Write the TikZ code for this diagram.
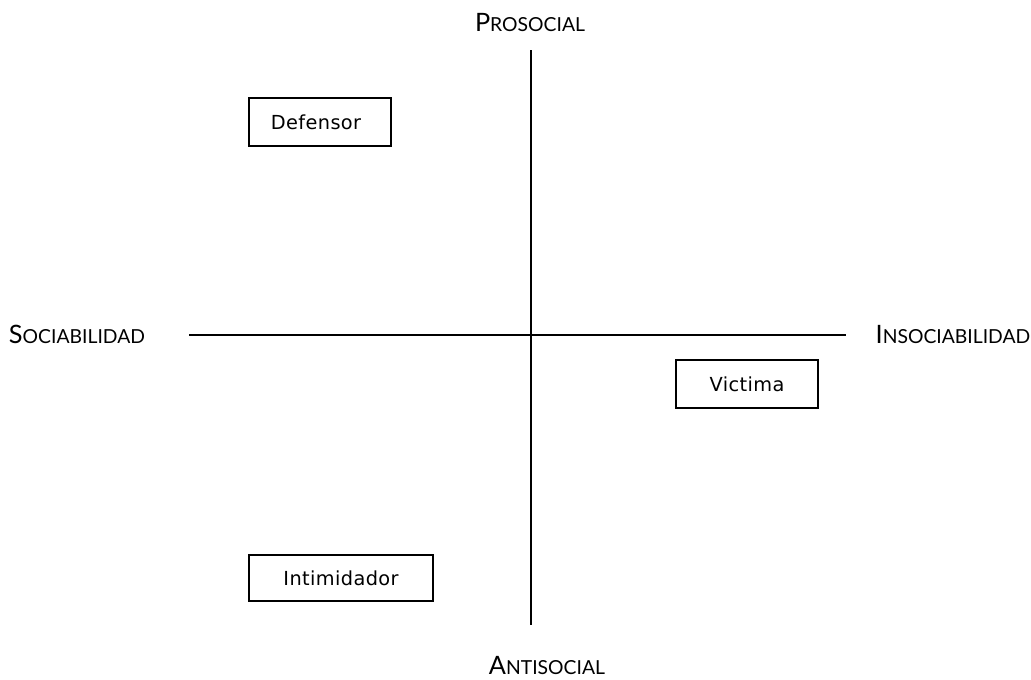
\documentclass[tikz,border=0pt]{standalone}
\usepackage{fontspec}
\setmainfont[LetterSpace=2]{DejaVu Sans}
\newfontfamily\axisfont{Lato}
\usetikzlibrary{positioning}

% fake small caps for the axis names
\newcommand{\axname}[2]{{\axisfont\fontsize{19}{19}\selectfont #1\fontsize{14.5}{14.5}\selectfont #2}}

\tikzset{
  role/.style={draw, line width=1.5pt, inner sep=0pt, font=\fontsize{14.5}{14.5}\selectfont},
  axis/.style={line width=1.5pt},
  pole/.style={inner sep=0pt}
}

\begin{document}
\begin{tikzpicture}[x=0.75pt,y=0.75pt,yscale=-1,xscale=1]
\useasboundingbox (0,0) rectangle (1031,679);

% axes ends
\coordinate (top) at (531,50);
\coordinate (bot) at (531,625);
\coordinate (lft) at (189,335);
\coordinate (rgt) at (846,335);

\draw [axis] (top) -- (bot);
\draw [axis] (lft) -- (rgt);

% poles
\node [pole] (pro) at (530,22) {\axname{P}{ROSOCIAL}};
\node [pole] (anti) at (547,665) {\axname{A}{NTISOCIAL}};
\node [pole] (soc) at (77,334) {\axname{S}{OCIABILIDAD}};
\node [pole] (insoc) at (953,334) {\axname{I}{NSOCIABILIDAD}};

% roles
\node [role, minimum width=106.5pt, minimum height=36pt] (def) at (320,122) {\hspace*{-6pt}Defensor};
\node [role, minimum width=106.5pt, minimum height=36pt] (vic) at (747,384) {Victima};
\node [role, minimum width=138pt, minimum height=35pt] (inti) at (341,578) {Intimidador};

\end{tikzpicture}
\end{document}
